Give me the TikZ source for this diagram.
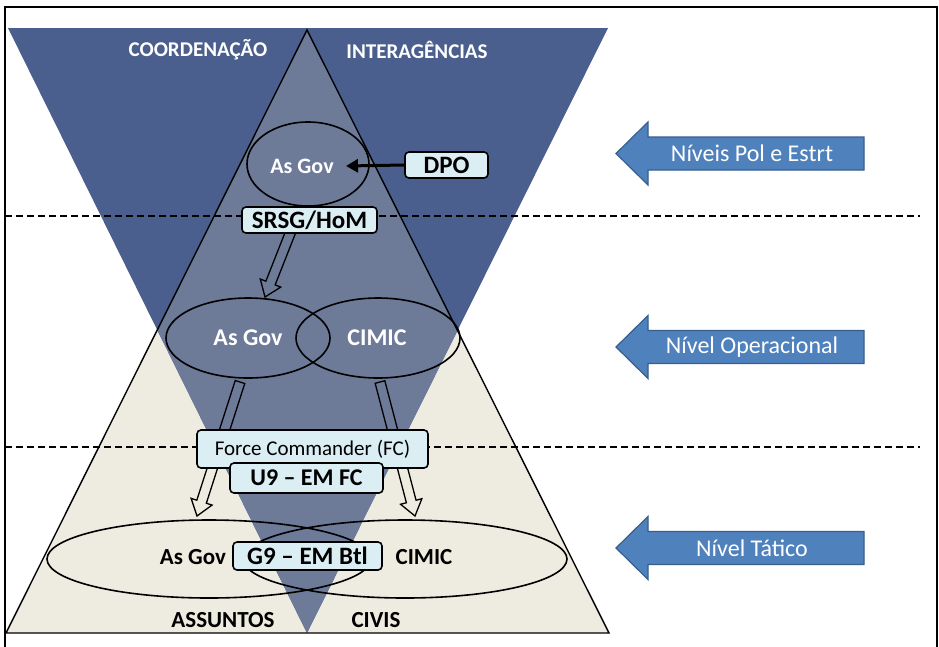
\documentclass[tikz,border=0pt]{standalone}
\usepackage{fontspec}
\setmainfont{Carlito}
\usetikzlibrary{shapes.geometric,calc,arrows.meta}
\definecolor{navy}{HTML}{4B5F8E}
\definecolor{mixblue}{HTML}{6D7A98}
\definecolor{beige}{HTML}{EEECE1}
\definecolor{boxblue}{HTML}{DBEEF4}
\definecolor{arrowblue}{HTML}{4F81BD}
\definecolor{arrowedge}{HTML}{3A5E8C}
\tikzset{
  ell/.style={ellipse, draw=black, line width=1.6pt, inner sep=0pt},
  infobox/.style={draw=black, fill=boxblue, line width=1.6pt, rounded corners=4pt, inner sep=0pt, font=\bfseries\fontsize{25}{28}\selectfont},
  whitelbl/.style={text=white, font=\bfseries\fontsize{22}{26}\selectfont, inner sep=0pt},
  blacklbl/.style={text=black, font=\bfseries\fontsize{23}{27}\selectfont, inner sep=0pt},
  levellbl/.style={text=white, font=\fontsize{24}{28}\selectfont, inner sep=0pt},
  levelline/.style={draw=black, line width=1.8pt, dash pattern=on 7pt off 4pt},
  hollowarrow/.style={draw=black, line width=1.3pt, line join=miter},
  levelarrow/.style={fill=arrowblue, draw=arrowedge, line width=1.2pt}
}
\newcommand\hollowarr[2]{%
  \coordinate (hb) at ($(#2)!15pt!(#1)$);
  \draw[hollowarrow] ($(#1)!5pt!90:(#2)$) -- ($(hb)!5pt!90:(#2)$) -- ($(hb)!11pt!90:(#2)$)
     -- (#2) -- ($(hb)!11pt!-90:(#2)$) -- ($(hb)!5pt!-90:(#2)$) -- ($(#1)!5pt!-90:(#2)$) -- cycle;
}
\newcommand\levelarr[3]{%
  \draw[levelarrow] (616,#1) -- (648,#1-31.5) -- (648,#1-16.5) -- (864,#1-16.5) -- (864,#1+16.5)
     -- (648,#1+16.5) -- (648,#1+31.5) -- cycle;
  \node[levellbl] (#3) at (752,#1) {#2};
}
\begin{document}
\begin{tikzpicture}[x=1pt,y=-1pt]
\useasboundingbox (0,0) rectangle (939,646);
\fill[white] (0,0) rectangle (939,646);
% triangles
\fill[beige] (307,30) -- (609,633) -- (6,633) -- cycle;
\fill[navy] (8,28) -- (608,28) -- (307,633) -- cycle;
\begin{scope}
  \clip (307,30) -- (609,633) -- (6,633) -- cycle;
  \fill[mixblue] (8,28) -- (608,28) -- (307,633) -- cycle;
\end{scope}
\draw[black, line width=1.4pt, line join=miter] (307,30) -- (609,633) -- (6,633) -- cycle;
% dashed level lines
\coordinate (d1a) at (5,216); \coordinate (d1b) at (920,216);
\coordinate (d2a) at (5,447); \coordinate (d2b) at (920,447);
\draw[levelline] (d1a) -- (d1b);
\draw[levelline] (d2a) -- (d2b);
% ellipses
\node[ell, minimum width=122pt, minimum height=84pt] (agtop) at (308,164) {};
\node[ell, minimum width=164pt, minimum height=80pt] (agmid) at (248,338) {};
\node[ell, minimum width=164pt, minimum height=80pt] (cimid) at (378,338) {};
\node[ell, minimum width=324pt, minimum height=78pt] (agbot) at (209,559) {};
\node[ell, minimum width=324pt, minimum height=78pt] (cibot) at (405,559) {};
% hollow arrows
\coordinate (a1s) at (293,226); \coordinate (a1e) at (265,297);
\coordinate (a2s) at (240,382); \coordinate (a2e) at (197,516);
\coordinate (a3s) at (380,382); \coordinate (a3e) at (415,516);
\hollowarr{a1s}{a1e}
\hollowarr{a2s}{a2e}
\hollowarr{a3s}{a3e}
% boxes
\node[infobox, minimum width=83pt, minimum height=26pt] (dpo) at (446.5,165) {DPO};
\node[infobox, minimum width=135pt, minimum height=26pt] (srsg) at (309.5,220) {SRSG/HoM};
\node[infobox, minimum width=231pt, minimum height=38pt, font=\fontsize{21}{24}\selectfont, text depth=2pt] (fc) at (312.5,449) {Force Commander (FC)};
\node[infobox, minimum width=153pt, minimum height=30pt, font=\bfseries\fontsize{24}{27}\selectfont] (u9) at (306.5,478) {U9 – EM FC};
\node[infobox, minimum width=149pt, minimum height=28pt] (g9) at (307.5,556) {G9 – EM Btl};
% DPO arrow
\coordinate (dpotip) at (346,166);
\draw[line width=3pt, -{Triangle[length=12pt,width=13pt]}] (dpo.west) -- (dpotip);
% labels
\node[whitelbl, font=\bfseries\fontsize{21}{25}\selectfont] (coord) at (198,50) {COORDENAÇÃO};
\node[whitelbl, font=\bfseries\fontsize{21}{25}\selectfont] (inter) at (417,50) {INTERAGÊNCIAS};
\node[whitelbl] (agtopt) at (302,166) {As Gov};
\node[whitelbl, font=\bfseries\fontsize{24}{28}\selectfont] (agmidt) at (248,338) {As Gov};
\node[whitelbl, font=\bfseries\fontsize{24}{28}\selectfont] (cimidt) at (377,338) {CIMIC};
\node[blacklbl] (agbott) at (193,557) {As Gov};
\node[blacklbl] (cibott) at (424,557) {CIMIC};
\node[blacklbl] (assuntos) at (223,620) {ASSUNTOS};
\node[blacklbl] (civis) at (376,620) {CIVIS};
% level arrows
\levelarr{153.5}{Níveis Pol e Estrt}{lv1}
\levelarr{347}{Nível Operacional}{lv2}
\levelarr{548}{Nível Tático}{lv3}
% frame
\draw[black, line width=2.4pt] (5,660) -- (5,7) -- (937,7) -- (937,660);
\end{tikzpicture}
\end{document}
